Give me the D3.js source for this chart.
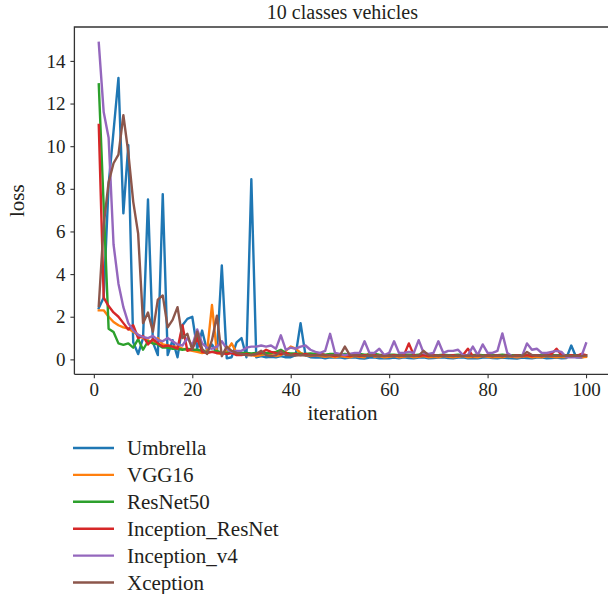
<!DOCTYPE html>
<html><head><meta charset="utf-8">
<script src="https://cdn.jsdelivr.net/npm/d3@7"></script>
<style>body{margin:0;background:#fff}svg{display:block}text{font-family:"Liberation Serif","Times New Roman",serif;fill:#231f20}</style>
</head><body><div id="chart"></div>
<script>
const seriesNames = ["Umbrella","VGG16","ResNet50","Inception_ResNet","Inception_v4","Xception"];
const colors = ["#1f77b4","#ff7f0e","#2ca02c","#d62728","#9467bd","#8c564b"];
const iterations = d3.range(1,101);
const xTicks = [0,20,40,60,80,100];
const yTicks = [0,2,4,6,8,10,12,14];

const umbrella = [2.4,2.9,8.2,10.7,13.2,6.85,10.05,0.8,0.25,1.0,
7.5,0.8,0.2,7.75,0.2,0.9,0.1,1.6,1.9,2.0,
0.5,1.35,0.4,0.7,0.3,4.4,0.05,0.1,0.8,1.0,
0.1,8.45,0.1,0.15,0.1,0.12,0.1,0.15,0.1,0.1,
0.2,1.7,0.2,0.1,0.08,0.1,0.05,0.1,0.08,0.1,
0.05,0.08,0.1,0.05,0.04,0.08,0.1,0.05,0.06,0.05,
0.08,0.05,0.1,0.06,0.05,0.08,0.1,0.05,0.06,0.08,
0.1,0.06,0.05,0.08,0.1,0.05,0.06,0.05,0.08,0.1,
0.06,0.05,0.08,0.06,0.05,0.04,0.08,0.06,0.05,0.08,
0.1,0.05,0.06,0.08,0.05,0.06,0.65,0.1,0.08,0.15];
const vgg16 = [2.3,2.3,2.0,1.75,1.6,1.5,1.45,1.3,1.15,1.0,
0.9,0.75,1.0,0.7,0.65,0.6,0.6,0.5,0.45,0.4,
0.35,0.3,0.35,2.55,0.3,0.25,0.4,0.75,0.3,0.25,
0.2,0.2,0.15,0.2,0.25,0.2,0.15,0.2,0.4,0.6,
0.5,0.3,0.2,0.15,0.2,0.15,0.12,0.15,0.1,0.15,
0.12,0.1,0.15,0.12,0.1,0.3,0.12,0.15,0.1,0.12,
0.15,0.1,0.12,0.15,0.1,0.12,0.15,0.1,0.12,0.1,
0.15,0.12,0.1,0.12,0.15,0.1,0.12,0.1,0.15,0.12,
0.1,0.12,0.1,0.15,0.12,0.1,0.12,0.15,0.1,0.12,
0.1,0.15,0.12,0.1,0.12,0.1,0.15,0.12,0.1,0.12];
const resnet50 = [12.9,7.2,1.44,1.28,0.75,0.68,0.75,0.55,0.95,0.45,
0.85,0.75,0.7,0.55,0.55,0.5,0.5,0.45,0.5,0.45,
0.45,0.4,0.35,0.35,0.4,0.3,0.3,0.35,0.3,0.3,
0.3,0.28,0.3,0.28,0.3,0.3,0.35,0.45,0.3,0.28,
0.28,0.25,0.25,0.28,0.25,0.25,0.22,0.25,0.25,0.22,
0.25,0.22,0.22,0.25,0.22,0.22,0.25,0.22,0.2,0.22,
0.22,0.2,0.22,0.22,0.2,0.22,0.2,0.22,0.2,0.2,
0.22,0.2,0.2,0.22,0.2,0.2,0.2,0.22,0.2,0.2,
0.2,0.2,0.22,0.2,0.2,0.2,0.2,0.2,0.2,0.2,
0.2,0.2,0.2,0.2,0.2,0.2,0.2,0.2,0.2,0.2];
const inceptionResNet = [11.0,2.9,2.5,2.2,2.0,1.7,1.4,1.6,1.0,1.1,
0.7,0.95,0.75,0.6,0.65,0.6,0.5,1.6,0.4,0.5,
1.0,0.35,0.3,0.35,0.3,0.3,0.25,0.3,0.2,0.2,
0.25,0.2,0.25,0.3,0.45,0.35,0.3,0.25,0.3,0.2,
0.25,0.2,0.25,0.2,0.2,0.25,0.2,0.2,0.15,0.2,
0.2,0.15,0.2,0.15,0.2,0.15,0.2,0.15,0.2,0.15,
0.2,0.15,0.2,0.75,0.2,0.15,0.2,0.15,0.2,0.15,
0.2,0.15,0.2,0.15,0.2,0.5,0.15,0.2,0.15,0.2,
0.15,0.2,0.15,0.2,0.15,0.2,0.15,0.2,0.15,0.2,
0.15,0.2,0.25,0.5,0.2,0.15,0.2,0.15,0.25,0.2];
const inceptionV4 = [14.85,11.6,10.4,5.4,3.55,2.45,1.7,1.36,1.15,1.05,
1.0,1.1,0.9,0.85,1.0,0.85,0.7,0.65,1.0,0.65,
1.4,0.75,0.55,0.5,0.6,0.85,0.5,0.35,0.4,0.4,
0.55,0.6,0.6,0.65,0.6,0.65,0.5,1.13,0.45,0.55,
0.5,0.6,0.65,0.45,0.35,0.3,0.4,1.2,0.3,0.25,
0.2,0.25,0.3,0.3,0.85,0.3,0.3,0.5,0.2,0.3,
0.85,0.3,0.3,0.35,0.3,0.9,0.3,0.25,0.3,0.85,
0.3,0.4,0.4,0.45,0.2,0.2,0.6,0.2,0.7,0.3,
0.3,0.4,1.22,0.3,0.15,0.15,0.15,0.75,0.45,0.5,
0.3,0.3,0.35,0.4,0.35,0.1,0.1,0.1,0.1,0.75];
const xception = [2.5,6.3,8.3,9.2,9.6,11.45,9.7,7.4,5.9,1.7,
2.2,1.3,2.8,3.0,1.5,1.85,2.45,1.0,1.2,0.45,
1.3,0.5,0.25,0.9,2.05,0.15,0.6,0.4,0.3,0.25,
0.2,0.2,0.25,0.4,0.2,0.15,0.2,0.4,0.2,0.2,
0.18,0.2,0.18,0.2,0.18,0.2,0.18,0.2,0.2,0.18,
0.6,0.2,0.18,0.2,0.15,0.18,0.15,0.18,0.15,0.18,
0.15,0.18,0.15,0.18,0.15,0.18,0.4,0.2,0.15,0.18,
0.15,0.18,0.15,0.18,0.15,0.18,0.15,0.18,0.15,0.18,
0.15,0.18,0.15,0.18,0.15,0.18,0.15,0.35,0.2,0.18,
0.15,0.18,0.15,0.18,0.15,0.18,0.15,0.18,0.15,0.18];
const seriesValues = [umbrella,vgg16,resnet50,inceptionResNet,inceptionV4,xception];

const W=608,H=594;
const plot={left:74.4,right:610.4,top:27,bottom:374.3};
const svg=d3.select("#chart").append("svg").attr("width",W).attr("height",H);
const allVals=seriesValues.flat();
const ymin=d3.min(allVals), ymax=d3.max(allVals), yr=ymax-ymin;
const x=d3.scaleLinear().domain([1-4.95,100+4.95]).range([plot.left,plot.right]);
const y=d3.scaleLinear().domain([ymin-0.05*yr,ymax+0.05*yr]).range([plot.bottom,plot.top]);

const g=svg.append("g");
const line=d3.line().x((d,i)=>x(iterations[i])).y(d=>y(d));
seriesValues.forEach((vals,k)=>{
  g.append("path").datum(vals).attr("d",line).attr("fill","none")
   .attr("stroke",colors[k]).attr("stroke-width",2.4).attr("stroke-linejoin","round").attr("stroke-linecap","square");
});

const xa=svg.append("g").attr("transform",`translate(0,${plot.bottom})`)
  .call(d3.axisBottom(x).tickValues(xTicks).tickSize(4).tickPadding(4).tickFormat(d3.format("d")));
const ya=svg.append("g").attr("transform",`translate(${plot.left},0)`)
  .call(d3.axisLeft(y).tickValues(yTicks).tickSize(4).tickPadding(5).tickFormat(d3.format("d")));
[xa,ya].forEach(a=>{a.select(".domain").remove();a.selectAll("line").attr("stroke","#333").attr("stroke-width",1.1);
  a.selectAll("text").style("font-size","19px").style("font-family",'"Liberation Serif",serif').attr("fill","#231f20");});
// spines
svg.append("path").attr("d",`M${plot.left},${plot.bottom}V${plot.top}H${plot.right}`).attr("fill","none").attr("stroke","#333").attr("stroke-width",1.3);
svg.append("path").attr("d",`M${plot.left},${plot.bottom}H${plot.right}`).attr("fill","none").attr("stroke","#333").attr("stroke-width",1.3);

const cx=(plot.left+plot.right)/2;
svg.append("text").attr("x",cx).attr("y",19).attr("text-anchor","middle").style("font-size","20px").text("10 classes vehicles");
svg.append("text").attr("x",cx).attr("y",420).attr("text-anchor","middle").style("font-size","21px").text("iteration");
svg.append("text").attr("transform",`translate(24,${(plot.top+plot.bottom)/2}) rotate(-90)`).attr("text-anchor","middle").style("font-size","21px").text("loss");

const leg=svg.append("g");
seriesNames.forEach((n,k)=>{
  const yy=448+k*26.9;
  leg.append("line").attr("x1",73).attr("x2",114).attr("y1",yy).attr("y2",yy).attr("stroke",colors[k]).attr("stroke-width",2.4);
  leg.append("text").attr("x",127).attr("y",yy).attr("dy","0.35em").style("font-size","21px").text(n);
});
</script></body></html>
